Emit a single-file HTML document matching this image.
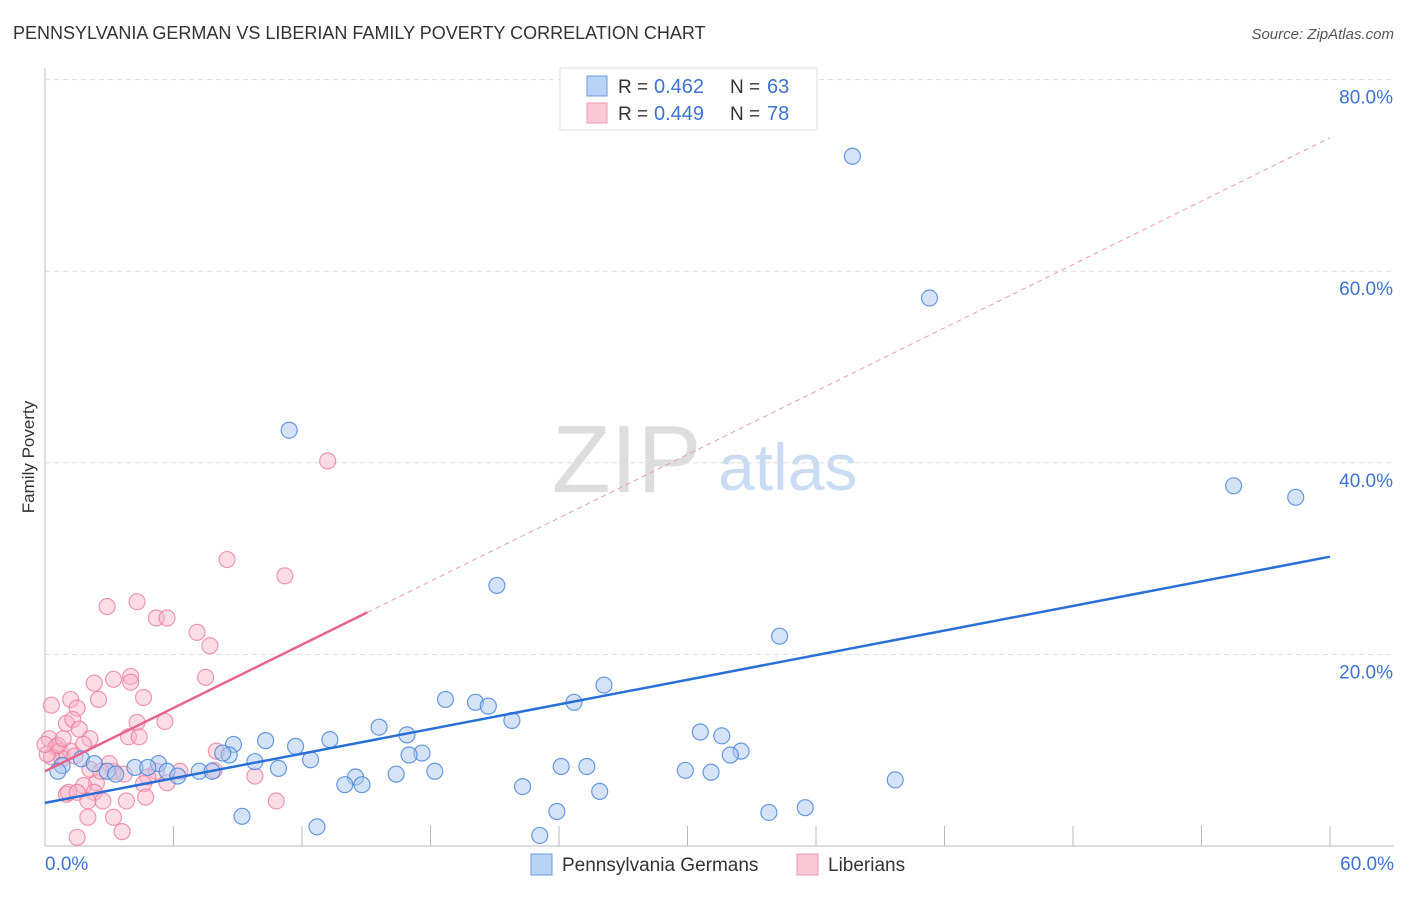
<!DOCTYPE html>
<html><head><meta charset="utf-8"><style>
body{margin:0;background:#fff;font-family:"Liberation Sans",sans-serif;}
svg text{font-family:"Liberation Sans",sans-serif;}
</style></head><body>
<svg id="chart" width="1406" height="892" viewBox="0 0 1406 892" xmlns="http://www.w3.org/2000/svg">
<text x="13" y="39" font-size="18" fill="#333">PENNSYLVANIA GERMAN VS LIBERIAN FAMILY POVERTY CORRELATION CHART</text>
<text x="1394" y="39" font-size="15" fill="#555" text-anchor="end" font-style="italic">Source: ZipAtlas.com</text>
<text transform="translate(34,457) rotate(-90)" font-size="17" fill="#333" text-anchor="middle">Family Poverty</text>
<g><text x="552" y="492" font-size="96" fill="#ddd" font-family="Liberation Serif,serif">ZIP</text><text x="718" y="490" font-size="66" fill="#c9dcf3">atlas</text></g>
<g id="grid"></g>
<g id="marks"></g>
<g>
<rect x="560" y="68" width="257" height="62" fill="#fff" stroke="#ddd"/>
<rect x="587" y="76" width="20" height="20" fill="#b9d3f5" stroke="#6a9be0"/>
<rect x="587" y="103" width="20" height="20" fill="#fbc8d7" stroke="#ee9ab3"/>
<text x="618" y="93" font-size="19" fill="#333">R =</text>
<text x="654" y="93" font-size="20" fill="#3b74d4">0.462</text>
<text x="730" y="93" font-size="19" fill="#333">N =</text>
<text x="767" y="93" font-size="20" fill="#3b74d4">63</text>
<text x="618" y="120" font-size="19" fill="#333">R =</text>
<text x="654" y="120" font-size="20" fill="#3b74d4">0.449</text>
<text x="730" y="120" font-size="19" fill="#333">N =</text>
<text x="767" y="120" font-size="20" fill="#3b74d4">78</text>
</g>
<g>
<rect x="531" y="854" width="21" height="21" fill="#b9d3f5" stroke="#6a9be0"/>
<text x="562" y="871" font-size="19" fill="#333">Pennsylvania Germans</text>
<rect x="797" y="854" width="21" height="21" fill="#fbc8d7" stroke="#ee9ab3"/>
<text x="828" y="871" font-size="19" fill="#333">Liberians</text>
</g>
</svg>
<script>
const yTicks=[20,40,60,80];
const yTickLabels=["20.0%","40.0%","60.0%","80.0%"];
const xTicks=[0,6,12,18,24,30,36,42,48,54,60];
const blueX=[37.7,41.3,11.4,55.5,58.4,21.1,34.3,26.1,18.7,20.1,20.7,24.7,21.8,15.6,16.9,13.3,10.3,11.7,8.8,30.6,31.6,32.5,32.0,17.6,17.0,8.6,8.3,12.4,9.8,10.9,5.3,1.7,2.3,0.8,5.7,6.2,7.2,7.8,4.2,2.9,3.3,14.5,14.0,14.8,16.4,18.2,24.1,25.3,29.9,31.1,39.7,22.3,25.9,23.9,9.2,12.7,23.1,33.8,35.5,4.8,0.6];
const blueY=[72.0,57.2,43.4,37.6,36.4,27.2,21.9,16.8,15.3,15.0,14.6,15.0,13.1,12.4,11.6,11.1,11.0,10.4,10.6,11.9,11.5,9.9,9.5,9.7,9.5,9.5,9.7,9.0,8.8,8.1,8.6,9.1,8.6,8.4,7.8,7.3,7.8,7.8,8.2,7.8,7.5,7.2,6.4,6.4,7.5,7.8,8.3,8.3,7.9,7.7,6.9,6.2,5.7,3.6,3.1,2.0,1.1,3.5,4.0,8.2,7.8];
const pinkX=[13.2,8.5,11.2,2.9,4.3,5.2,5.7,7.1,7.7,7.5,4.0,3.2,4.0,2.3,4.6,1.2,2.5,0.3,1.5,1.0,1.3,5.6,4.3,1.6,3.9,4.4,8.0,2.1,1.8,0.2,0.5,0.7,1.2,0.8,1.4,0.3,0.1,0.6,0.0,9.8,7.9,6.3,3.2,2.1,3.0,3.7,5.2,4.8,4.6,5.7,2.4,1.8,2.3,1.0,1.1,1.5,2.7,2.0,3.8,4.7,10.8,3.2,2.0,3.6,1.5,2.6,0.85];
const pinkY=[40.2,29.9,28.2,25.0,25.5,23.8,23.8,22.3,20.9,17.6,17.7,17.4,17.1,17.0,15.5,15.3,15.3,14.7,14.4,12.8,13.2,13.0,12.9,12.2,11.4,11.4,9.9,11.2,10.6,11.2,10.3,9.9,9.9,9.1,9.4,9.3,9.6,10.5,10.6,7.3,7.9,7.8,7.8,8.0,8.6,7.5,7.8,7.2,6.5,6.6,6.6,6.3,5.6,5.4,5.6,5.6,4.7,4.7,4.7,5.1,4.7,3.0,3.0,1.5,0.9,7.8,11.2];
const blueTrend=[4.5,30.2];
const pinkTrend=[7.8,1.102];
const pinkSolidEnd=15.05;
const NS="http://www.w3.org/2000/svg";
const X=v=>45+v*(1285/60);
const Y=v=>846-v*9.58;
function mk(tag,attrs,parent){const e=document.createElementNS(NS,tag);for(const k in attrs)e.setAttribute(k,attrs[k]);parent.appendChild(e);return e;}
const grid=document.getElementById('grid'),marks=document.getElementById('marks');
yTicks.forEach((t,i)=>{
 const l=mk('line',{x1:45,x2:1394,y1:Y(t),y2:Y(t),stroke:'#ddd','stroke-dasharray':'5,4'},grid);
 
 
 const tx=mk('text',{x:1393,y:Y(t)+24,'font-size':19,fill:'#3b74d4','text-anchor':'end'},grid);
 tx.textContent=yTickLabels[i];
 
 
});
const ya=mk('line',{x1:45,x2:45,y1:68,y2:846,stroke:'#bbb'},grid);


const xa=mk('line',{x1:45,x2:1394,y1:846,y2:846,stroke:'#bbb'},grid);


xTicks.forEach(t=>{
 const l=mk('line',{x1:X(t),x2:X(t),y1:826,y2:846,stroke:'#bbb'},grid);
 
 
});
const xl0=mk('text',{x:45,y:870,'font-size':19,fill:'#3b74d4'},grid);xl0.textContent='0.0%';


const xl1=mk('text',{x:1394,y:870,'font-size':19,fill:'#3b74d4','text-anchor':'end'},grid);xl1.textContent='60.0%';


pinkX.forEach((x,i)=>{
 const c=mk('circle',{cx:X(x),cy:Y(pinkY[i]),r:8,fill:'rgba(248,180,200,0.45)',stroke:'rgba(233,120,155,0.75)','stroke-width':1.2},marks);
 
 
});
blueX.forEach((x,i)=>{
 const c=mk('circle',{cx:X(x),cy:Y(blueY[i]),r:8,fill:'rgba(170,200,240,0.5)',stroke:'rgba(70,130,215,0.8)','stroke-width':1.2},marks);
 
 
});
const pd=mk('line',{x1:X(pinkSolidEnd),y1:Y(pinkTrend[0]+pinkTrend[1]*pinkSolidEnd),x2:X(60),y2:Y(pinkTrend[0]+pinkTrend[1]*60),stroke:'#ee9ab3','stroke-width':1,'stroke-dasharray':'5,4'},marks);


const ps=mk('line',{x1:X(0),y1:Y(pinkTrend[0]),x2:X(pinkSolidEnd),y2:Y(pinkTrend[0]+pinkTrend[1]*pinkSolidEnd),stroke:'#e8648e','stroke-width':2.5},marks);


const bl=mk('line',{x1:X(0),y1:Y(blueTrend[0]),x2:X(60),y2:Y(blueTrend[1]),stroke:'#2a6fd6','stroke-width':2.5},marks);


</script>
</body></html>
